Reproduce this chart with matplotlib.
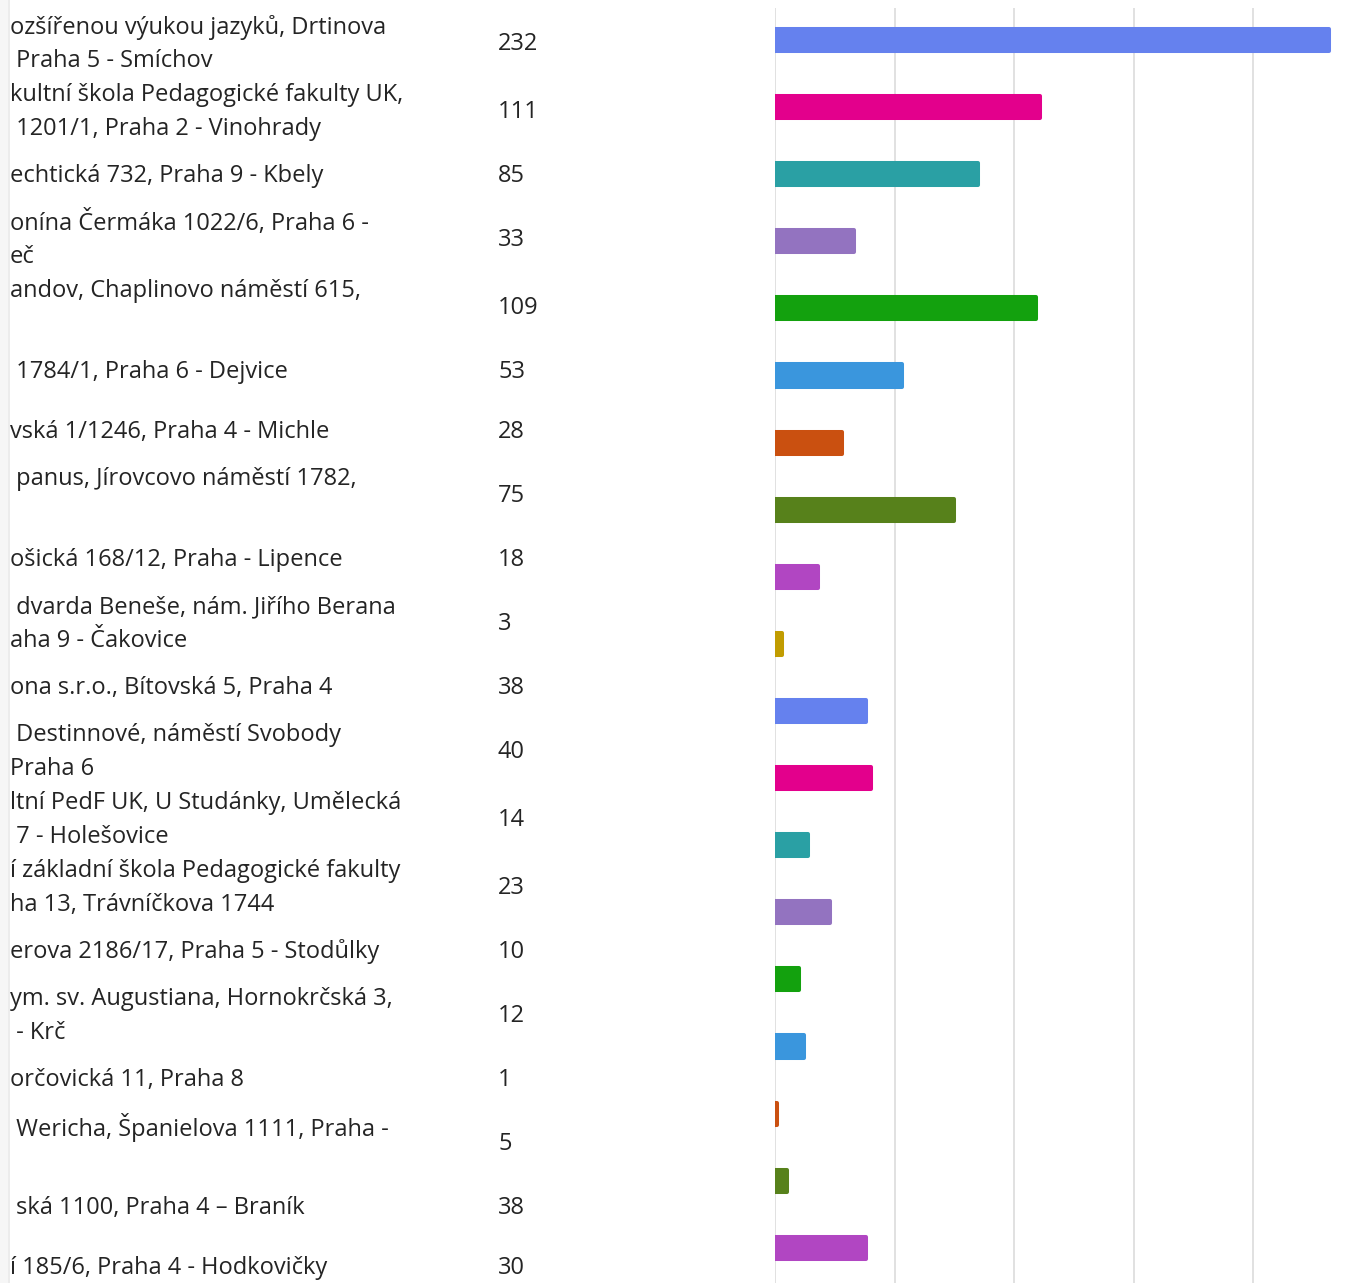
import matplotlib
matplotlib.use("Agg")
import matplotlib.pyplot as plt
from matplotlib.patches import Rectangle
from matplotlib.lines import Line2D

# visible (cropped) school names, as they appear in the table column
labels = [
    "ozšířenou výukou jazyků, Drtinova\n Praha 5 - Smíchov",
    "kultní škola Pedagogické fakulty UK,\n 1201/1, Praha 2 - Vinohrady",
    "echtická 732, Praha 9 - Kbely",
    "onína Čermáka 1022/6, Praha 6 -\neč",
    "andov, Chaplinovo náměstí 615,\n",
    " 1784/1, Praha 6 - Dejvice",
    "vská 1/1246, Praha 4 - Michle",
    " panus, Jírovcovo náměstí 1782,\n",
    "ošická 168/12, Praha - Lipence",
    " dvarda Beneše, nám. Jiřího Berana\naha 9 - Čakovice",
    "ona s.r.o., Bítovská 5, Praha 4",
    " Destinnové, náměstí Svobody\nPraha 6",
    "ltní PedF UK, U Studánky, Umělecká\n 7 - Holešovice",
    "í základní škola Pedagogické fakulty\nha 13, Trávníčkova 1744",
    "erova 2186/17, Praha 5 - Stodůlky",
    "ym. sv. Augustiana, Hornokrčská 3,\n - Krč",
    "orčovická 11, Praha 8",
    " Wericha, Španielova 1111, Praha -\n",
    " ská 1100, Praha 4 – Braník",
    "í 185/6, Praha 4 - Hodkovičky",
]
counts = [232, 111, 85, 33, 109, 53, 28, 75, 18, 3, 38, 40, 14, 23, 10, 12, 1, 5, 38, 30]
palette = ["#6581ee", "#e3008c", "#2aa0a4", "#9373c0", "#13a10e",
           "#3a96dd", "#ca5010", "#57811b", "#b146c2", "#c19c00"]
grid_ticks = [0, 50, 100, 150, 200]

W, H = 1365, 1283
fig = plt.figure(figsize=(W / 100, H / 100), dpi=100)
fig.patch.set_facecolor("white")
plt.rcParams["font.family"] = ["Open Sans", "DejaVu Sans"]
txt_color = "#242424"
fs = 17

def fx(px):
    return px / W

def fy(py):
    return 1 - py / H

# table column: each row is 56 px tall (64 if wrapped), 4 px apart
top = 12
for lab, n in zip(labels, counts):
    lines = lab.split("\n")
    h = 64 if len(lines) > 1 else 56
    yc = top + h / 2
    for k, line in enumerate(lines):
        ly = yc + (k - (len(lines) - 1) / 2) * 34
        fig.text(fx(10), fy(ly), line, ha="left", va="center",
                 fontsize=fs, color=txt_color)
    fig.text(fx(498), fy(yc), str(n), ha="left", va="center",
             fontsize=fs, color=txt_color)
    top += h + 4

# bar chart
band = 67.1
ax_top, ax_bot = 8, H
x_max = 240
px_per_unit = 2.39
ax = fig.add_axes([fx(775), 0, x_max * px_per_unit / W, (ax_bot - ax_top) / H])
colors = [palette[i % len(palette)] for i in range(len(counts))]
bars = ax.barh(range(len(counts)), counts, height=0.33, color=colors,
               edgecolor=colors, linewidth=2.9, zorder=3)
for b in bars:
    b.set_joinstyle("round")
first = 32 / band
ax.set_ylim(-first + (ax_bot - ax_top) / band, -first)
ax.set_xlim(0, x_max)
ax.set_xticks(grid_ticks)
ax.grid(axis="x", color="#e1e1e1", linewidth=1.4)
ax.tick_params(length=0, labelbottom=False, labelleft=False)
for s in ax.spines.values():
    s.set_visible(False)
ax.set_facecolor("none")

# left edge shadow of the panel
fig.add_artist(Rectangle((0, 0), fx(8), 1, transform=fig.transFigure,
                         facecolor="#f6f6f6", edgecolor="none"))
fig.add_artist(Line2D([fx(8.5), fx(8.5)], [0, 1], transform=fig.transFigure,
                      color="#e9e9e9", linewidth=1.2))

fig.savefig("out.png", dpi=100)
